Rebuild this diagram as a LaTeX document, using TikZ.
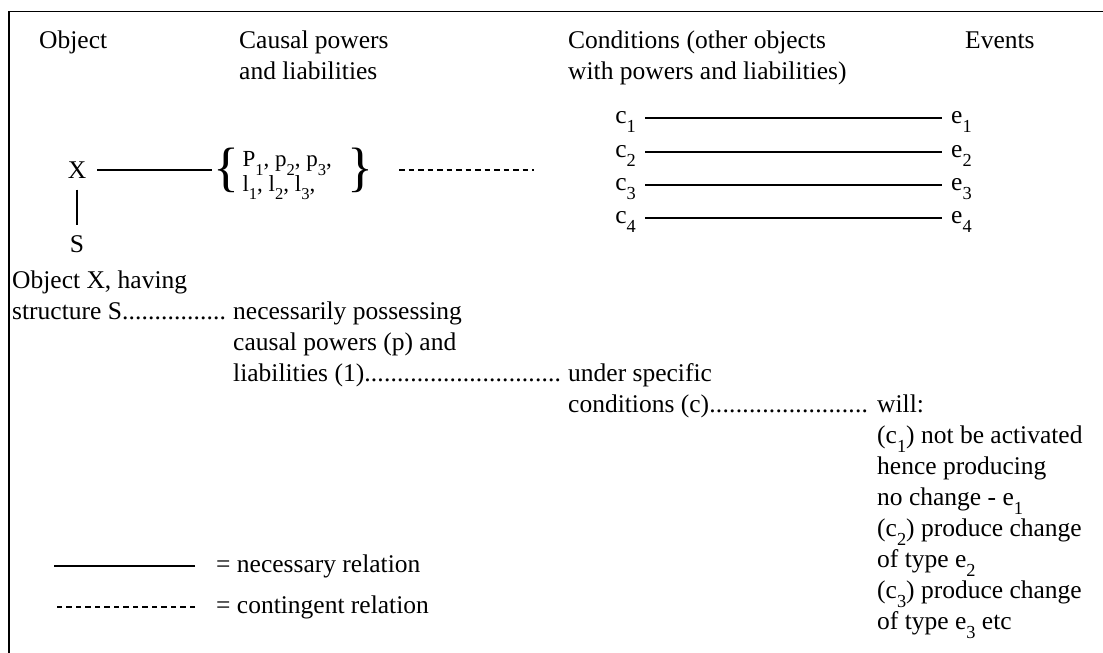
\documentclass[tikz,border=0pt]{standalone}
\usepackage{fontspec}
\setmainfont{Liberation Serif}
\usetikzlibrary{positioning}

\newcommand{\sub}[1]{\raisebox{-0.36em}{\scalebox{0.72}{#1}}}
\newcommand{\dotlead}{\xleaders\hbox to 6.5pt{\hss.\hss}\hfill}
\newcommand{\brc}{\fontsize{54}{54}\selectfont}

\tikzset{
  txt/.style={inner sep=0pt, align=left, font=\fontsize{25.5}{31}\selectfont},
  nec/.style={line width=1.3pt},
  cont/.style={line width=1.3pt, dash pattern=on 5.5pt off 4pt},
  clab/.style={txt, text height=10pt, text depth=0pt, inner xsep=9pt},
  pt/.style={txt, inner sep=11pt}
}

\begin{document}
\begin{tikzpicture}[x=1pt,y=-1pt]
  \useasboundingbox (0,0) rectangle (1103,653);
  \draw[line width=1.5pt] (9,653) -- (9,11.5) -- (1103,11.5);

  % column heads (base = last line)
  \node[txt, anchor=base west] (hobj) at (39,48) {Object};
  \node[txt, anchor=base west] (hcaus) at (239,79) {Causal powers\\and liabilities};
  \node[txt, anchor=base west] (hcond) at (568,79) {Conditions (other objects\\with powers and liabilities)};
  \node[txt, anchor=base west] (hev) at (965,48) {Events};

  % object and its powers
  \node[pt] (X) at (77,170) {X};
  \node[pt, below=35pt of X] (S) {S};
  \node[inner sep=0pt, right=116pt of X, yshift=-4pt] (pl)
    {{\brc\raisebox{-4pt}{\{}}\raisebox{0pt}{\fontsize{23}{16}\selectfont\begin{tabular}{@{\hspace{3pt}}l@{\hspace{16pt}}}P\sub{1}, p\sub{2}, p\sub{3},\\l\sub{1}, l\sub{2}, l\sub{3},\end{tabular}}{\brc\raisebox{-4pt}{\}}}};
  \draw[nec] (X) -- (S);
  \draw[nec] (X.east) -- ([xshift=-1pt]X.east -| pl.west);
  \draw[cont] ([xshift=25pt]X.east -| pl.east) -- ++(135,0);

  % conditions and events
  \foreach \y/\w [count=\i] in {118/1.3pt, 152/1.3pt, 185/2pt, 218/1.3pt} {
    \node[clab, anchor=east] (cl\i) at (645,\y) {c\sub{\i}};
    \node[clab, anchor=west] (cr\i) at (942,\y) {e\sub{\i}};
    \draw[nec, line width=\w] (cl\i) -- (cr\i);
  }

  % the chain in words (base = last line)
  \node[txt, anchor=base west] (objx) at (12,319)
    {Object X, having\\\makebox[214pt][l]{structure S\dotlead}};
  \node[txt, anchor=base west] (poss) at (233,381)
    {necessarily possessing\\causal powers (p) and\\\makebox[328pt][l]{liabilities (1)\dotlead}};
  \node[txt, anchor=base west] (spec) at (568,412)
    {under specific\\\makebox[300pt][l]{conditions (c)\dotlead}};
  \node[txt, anchor=base west] (will) at (877,629)
    {will:\\(c\sub{1}) not be activated\\hence producing\\no change - e\sub{1}\\(c\sub{2}) produce change\\of type e\sub{2}\\(c\sub{3}) produce change\\of type e\sub{3} etc};

  % legend
  \node[txt, anchor=base west] (lnec) at (216,572) {= necessary relation};
  \node[txt, anchor=base west] (lcon) at (216,613) {= contingent relation};
  \draw[nec, line width=1.8pt] ([xshift=-21pt]lnec.west) -- ++(-141,0);
  \draw[cont] ([xshift=-21pt]lcon.west) -- ++(-141,0);
\end{tikzpicture}
\end{document}
